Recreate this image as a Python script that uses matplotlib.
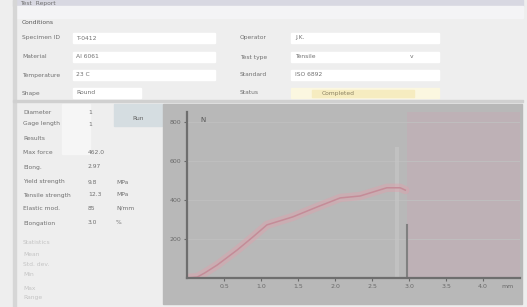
import matplotlib.pyplot as plt
from matplotlib.patches import Rectangle

# force-extension curve (mm, N)
ext = [0.0, 0.14, 0.24, 0.41, 0.68, 0.89, 1.08, 1.43, 1.76, 2.07, 2.34, 2.70, 2.88, 2.95]
force = [0, 5, 26, 67, 144, 210, 272, 313, 364, 410, 420, 462, 462, 450]
break_x = 2.97
break_y = 270
marker_x = 2.84
x_ticks = [0.5, 1, 1.5, 2, 2.5, 3, 3.5, 4]
y_ticks = [200, 400, 600, 800]

# form fields
form_left = ["Specimen ID", "Material", "Temperature", "Shape"]
form_left_val = ["T-0412", "Al 6061", "23 C", "Round"]
form_right = ["Operator", "Test type", "Standard", "Status"]
form_right_val = ["J.K.", "Tensile", "ISO 6892", "Completed"]
side_labels = ["Diameter", "Gage length", "Results", "Max force", "Elong.",
               "Yield strength", "Tensile strength", "Elastic mod.", "Elongation"]
side_vals = ["1", "1", "", "462.0", "2.97", "9.8", "12.3", "85", "3.0"]
side_units = ["", "", "", "", "", "MPa", "MPa", "N/mm", "%"]
stat_labels = ["Statistics", "Mean", "Std. dev.", "Min", "Max", "Range"]

fig = plt.figure(figsize=(5.27, 3.07), dpi=100)
fig.patch.set_facecolor("#eeeeee")

ui = fig.add_axes([0, 0, 1, 1])
ui.set_xlim(0, 527)
ui.set_ylim(307, 0)
ui.axis("off")

fs = 4.3
tc = "#707070"

# window frame
ui.add_patch(Rectangle((13, 0), 510, 6, color="#d8d8e2"))
ui.add_patch(Rectangle((13, 6), 510, 12, color="#f4f4f6"))
ui.add_patch(Rectangle((13, 0), 3, 307, color="#d6d6d6"))
ui.add_patch(Rectangle((13, 100), 510, 1.5, color="#d0d0d0"))
ui.text(20, 4, "Test  Report", fontsize=fs, color=tc, va="center")
ui.text(22, 23, "Conditions", fontsize=fs, color="#555555", va="center")

rows_y = [38, 57, 75, 93]
for i, y in enumerate(rows_y):
    ui.text(22, y, form_left[i], fontsize=fs, color=tc, va="center")
    ui.add_patch(Rectangle((73, y - 5), 142 if i < 3 else 68, 10, color="white"))
    ui.text(76, y, form_left_val[i], fontsize=fs, color=tc, va="center")
    ui.text(240, y, form_right[i], fontsize=fs, color=tc, va="center")
    if i == 3:
        ui.add_patch(Rectangle((291, y - 5), 148, 10, color="#fbf7e0"))
        ui.add_patch(Rectangle((312, y - 3.5), 102, 7, color="#f6ecc0"))
        ui.text(322, y, form_right_val[i], fontsize=fs, color="#8a8060", va="center")
    else:
        ui.add_patch(Rectangle((291, y - 5), 148, 10, color="white"))
        ui.text(295, y, form_right_val[i], fontsize=fs, color=tc, va="center")
ui.text(410, 57, "v", fontsize=fs, color=tc, va="center")

# side panel
ui.add_patch(Rectangle((62, 104), 28, 50, color="#f6f6f6"))
ui.add_patch(Rectangle((114, 104), 48, 22, color="#d5dde1"))
ui.text(138, 118, "Run", fontsize=fs, color="#606060", va="center", ha="center")
side_y = [112, 124, 139, 153, 167, 182, 195, 208, 223]
for i, y in enumerate(side_y):
    ui.text(23, y, side_labels[i], fontsize=fs, color=tc, va="center")
    ui.text(88, y, side_vals[i], fontsize=fs, color=tc, va="center")
    ui.text(116, y, side_units[i], fontsize=fs, color=tc, va="center")
stat_y = [243, 255, 265, 275, 288, 298]
for i, y in enumerate(stat_y):
    ui.text(23, y, stat_labels[i], fontsize=fs, color="#c4c4c4", va="center")

# chart panel
ui.add_patch(Rectangle((163, 104), 359, 200, color="#b8b8b8"))

W, H = 527, 307
ax = fig.add_axes([187 / W, (H - 278) / H, (520 - 187) / W, (278 - 112) / H])
ax.set_facecolor("#b8b8b8")
ax.set_xlim(0, 4.5)
ax.set_ylim(0, 850)

ax.axvspan(break_x, 4.5, color="#c8a8b4", alpha=0.4, lw=0)
ax.grid(axis="y", color="#c0c0c0", lw=0.6)
ax.axvline(marker_x, ymax=0.78, color="#c6c6c6", lw=3, alpha=0.7)
ax.plot(ext, force, color="#e0a0ac", lw=6, alpha=0.45, solid_capstyle="round")
ax.plot(ext, force, color="#c48c98", lw=1.1)
ax.plot([break_x, break_x], [0, break_y], color="#808080", lw=1.5)

for s in ["top", "right"]:
    ax.spines[s].set_visible(False)
for s in ["left", "bottom"]:
    ax.spines[s].set_color("#6e6e6e")
    ax.spines[s].set_linewidth(1.6)

ax.set_xticks(x_ticks)
ax.set_yticks(y_ticks)
ax.tick_params(labelsize=4.5, colors="#6a6a6a", length=2, width=0.8, pad=2)
ax.text(0.04, 0.97, "N", transform=ax.transAxes, fontsize=5, color="#555555", va="top")
ui.text(507, 287, "mm", fontsize=4.5, color="#6a6a6a", va="center", ha="center")

fig.savefig("out.png", dpi=100)
